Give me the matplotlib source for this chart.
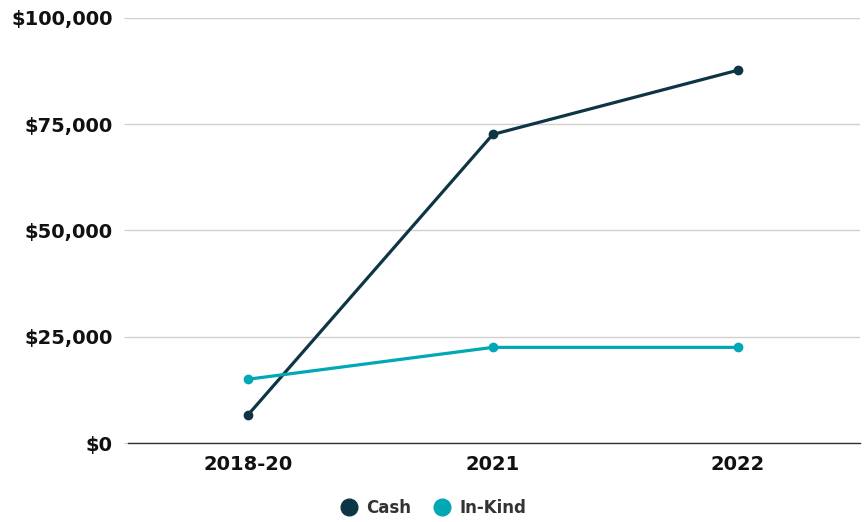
import matplotlib
matplotlib.use("Agg")
import matplotlib.pyplot as plt
from matplotlib.ticker import FuncFormatter
from matplotlib.lines import Line2D

categories = ["2018-20", "2021", "2022"]
cash = [6600, 72600, 87700]
in_kind = [15000, 22500, 22500]
yticks = [0, 25000, 50000, 75000, 100000]

c_cash = "#0e3546"
c_kind = "#00a8b5"

plt.rcParams['font.family'] = ['DejaVu Sans']
fig = plt.figure(figsize=(8.65, 5.22), dpi=100)
ax = fig.add_axes([128/865, 1-443/522, (860-128)/865, (443-18)/522])

x = list(range(len(categories)))
ax.plot(x, cash, color=c_cash, lw=2.3, marker="o", ms=6, zorder=3, solid_capstyle="round")
ax.plot(x, in_kind, color=c_kind, lw=2.3, marker="o", ms=6, zorder=3, solid_capstyle="round")

ax.set_xlim(-0.49, 2.5)
ax.set_ylim(0, 100000)
ax.set_yticks(yticks)
ax.yaxis.set_major_formatter(FuncFormatter(lambda v, p: f"${v:,.0f}"))
ax.set_xticks(x)
ax.set_xticklabels(categories)
ax.grid(axis="y", color="#d0d0d0", lw=1)
ax.set_axisbelow(True)
for s in ["top", "right", "left"]:
    ax.spines[s].set_visible(False)
ax.spines["bottom"].set_color("#333333")
ax.spines["bottom"].set_linewidth(1)
ax.tick_params(axis="y", length=3, color="#d0d0d0", pad=8, labelsize=14, labelcolor="#111111")
ax.tick_params(axis="x", length=0, pad=9, labelsize=14, labelcolor="#111111")
for lab in ax.get_yticklabels() + ax.get_xticklabels():
    lab.set_fontweight("bold")

handles = [Line2D([], [], ls="", marker="o", ms=12, color=c_cash, label="Cash"),
           Line2D([], [], ls="", marker="o", ms=12, color=c_kind, label="In-Kind")]
leg = fig.legend(handles=handles, loc="center", bbox_to_anchor=(0.5, 1-508/522), ncol=2,
                 frameon=False, prop={"size": 12, "weight": "bold"}, handletextpad=0.4,
                 columnspacing=1.3, handlelength=1.2)
for t in leg.get_texts():
    t.set_color("#333333")

fig.savefig("out.png", dpi=100)
